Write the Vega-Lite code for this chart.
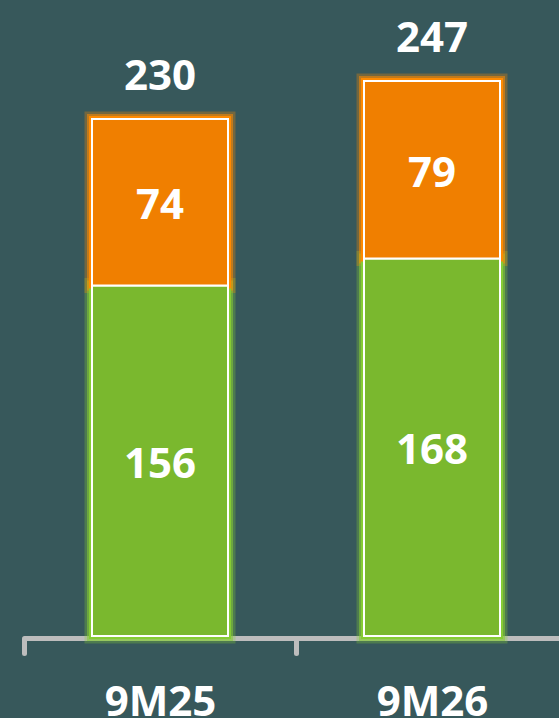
{
  "$schema": "https://vega.github.io/schema/vega-lite/v6.json",
  "width": 535,
  "height": 636,
  "autosize": {"type": "none"},
  "padding": {"left": 24, "top": 0, "right": 0, "bottom": 82},
  "background": "#37585B",
  "config": {"view": {"stroke": null}},
  "data": {
    "values": [
      {"period": "9M25", "seg": "green", "value": 156},
      {"period": "9M25", "seg": "orange", "value": 74},
      {"period": "9M26", "seg": "green", "value": 168},
      {"period": "9M26", "seg": "orange", "value": 79}
    ]
  },
  "encoding": {
    "x": {
      "field": "period",
      "type": "nominal",
      "scale": {"paddingInner": 0, "paddingOuter": 0, "range": [0, 544]},
      "axis": {
        "title": null,
        "labelAngle": 0,
        "labelFont": "Open Sans",
        "labelFontWeight": "bold",
        "labelFontSize": 42,
        "labelColor": "#FFFFFF",
        "labelBaseline": "alphabetic",
        "labelPadding": 62,
        "offset": 2,
        "tickBand": "extent",
        "tickSize": 15,
        "tickWidth": 5,
        "tickColor": "#BDBDBD",
        "tickCap": "round",
        "domainColor": "#BDBDBD",
        "domainWidth": 5,
        "domainCap": "butt",
        "grid": false
      }
    }
  },
  "layer": [
    {
      "mark": {"type": "bar", "width": {"band": 0.5}, "strokeWidth": 15, "strokeOpacity": 0.3, "fillOpacity": 0},
      "encoding": {
        "y": {"field": "value", "type": "quantitative", "stack": "zero", "scale": {"domain": [0, 283], "nice": false}, "axis": null},
        "stroke": {"field": "seg", "type": "nominal", "scale": {"domain": ["green", "orange"], "range": ["#86CC34", "#FF8A00"]}, "legend": null},
        "order": {"field": "seg", "sort": "ascending"}
      }
    },
    {
      "mark": {"type": "bar", "width": {"band": 0.5}, "strokeWidth": 10, "strokeOpacity": 0.55, "fillOpacity": 0},
      "encoding": {
        "y": {"field": "value", "type": "quantitative", "stack": "zero"},
        "stroke": {"field": "seg", "type": "nominal", "legend": null},
        "order": {"field": "seg", "sort": "ascending"}
      }
    },
    {
      "mark": {"type": "bar", "width": {"band": 0.5}, "strokeWidth": 6, "strokeOpacity": 1, "fillOpacity": 0},
      "encoding": {
        "y": {"field": "value", "type": "quantitative", "stack": "zero"},
        "stroke": {"field": "seg", "type": "nominal", "legend": null},
        "order": {"field": "seg", "sort": "ascending"}
      }
    },
    {
      "mark": {"type": "bar", "width": {"band": 0.5}, "stroke": "#FFFFFF", "strokeWidth": 2},
      "encoding": {
        "y": {"field": "value", "type": "quantitative", "stack": "zero"},
        "color": {"field": "seg", "type": "nominal", "scale": {"domain": ["green", "orange"], "range": ["#7AB82E", "#F07F00"]}, "legend": null},
        "order": {"field": "seg", "sort": "ascending"}
      }
    },
    {
      "mark": {"type": "text", "font": "Open Sans", "fontWeight": "bold", "fontSize": 42, "color": "#FFFFFF", "baseline": "alphabetic", "dy": 17},
      "encoding": {
        "y": {"field": "value", "type": "quantitative", "stack": "zero", "bandPosition": 0.5},
        "text": {"field": "value", "type": "quantitative"},
        "order": {"field": "seg", "sort": "ascending"}
      }
    },
    {
      "mark": {"type": "text", "font": "Open Sans", "fontWeight": "bold", "fontSize": 42, "color": "#FFFFFF", "baseline": "alphabetic", "dy": -29},
      "encoding": {
        "y": {"aggregate": "sum", "field": "value", "type": "quantitative"},
        "text": {"aggregate": "sum", "field": "value", "type": "quantitative"}
      }
    }
  ]
}
